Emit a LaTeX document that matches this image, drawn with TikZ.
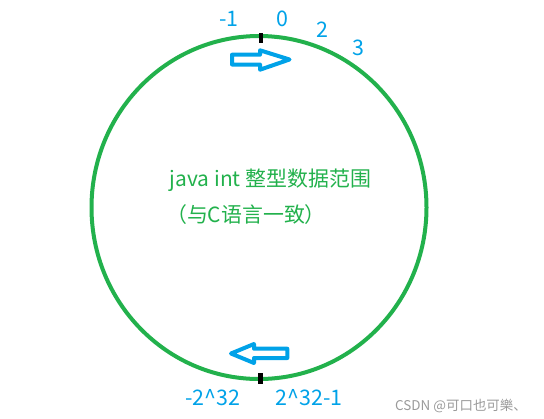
\documentclass[tikz,border=0pt]{standalone}
\usepackage{fontspec}
\setmainfont{Noto Sans CJK SC}
\definecolor{pgreen}{HTML}{22B14C}
\definecolor{pblue}{HTML}{00A2E8}
\definecolor{wmgray}{HTML}{9A9A9A}
\begin{document}
\begin{tikzpicture}[x=1bp,y=-1bp,
  lbl/.style={text=pblue,font=\fontsize{21.5}{24}\selectfont,inner sep=0pt},
  midtxt/.style={text=pgreen,font=\fontsize{21}{24}\selectfont,inner sep=0pt},
  blockarrow/.style={draw=pblue,line width=4bp,fill=white,line join=round},
  tickmark/.style={fill=black}]
\useasboundingbox (0,0) rectangle (544,418);
% ring
\draw[pgreen,line width=4bp] (259,207.5) ellipse [x radius=167.5,y radius=171.5];
% ticks
\fill[tickmark] (259,33) rectangle (263,43);
\fill[tickmark] (258,373) rectangle (263,384);
% arrows
\draw[blockarrow] (232,54.7) -- (260,54.7) -- (260,50.3) -- (289.5,59.5) -- (260,69.7) -- (260,64.5) -- (232,64.5) -- cycle;
\draw[blockarrow] (287.3,348.7) -- (254,348.7) -- (254,344) -- (231,353.5) -- (254,363) -- (254,358) -- (287.3,358) -- cycle;
% labels
\node[lbl] (m1) at (229,19) {-1};
\node[lbl] (z) at (282.5,19) {0};
\node[lbl] (two) at (322,29.5) {2};
\node[lbl] (three) at (358,47.5) {3};
\node[lbl] (mn) at (213,398) {-2\^{}32};
\node[lbl] (mx) at (309,398) {2\^{}32-1};
\node[midtxt] (t1) at (270.5,180) {java int 整型数据范围};
\node[midtxt] (t2) at (246,215) {（与C语言一致）};
\node[text=wmgray,font=\fontsize{13.5}{15}\selectfont,inner sep=0pt] (wm) at (461,406) {CSDN @可口也可樂、};
\end{tikzpicture}
\end{document}
